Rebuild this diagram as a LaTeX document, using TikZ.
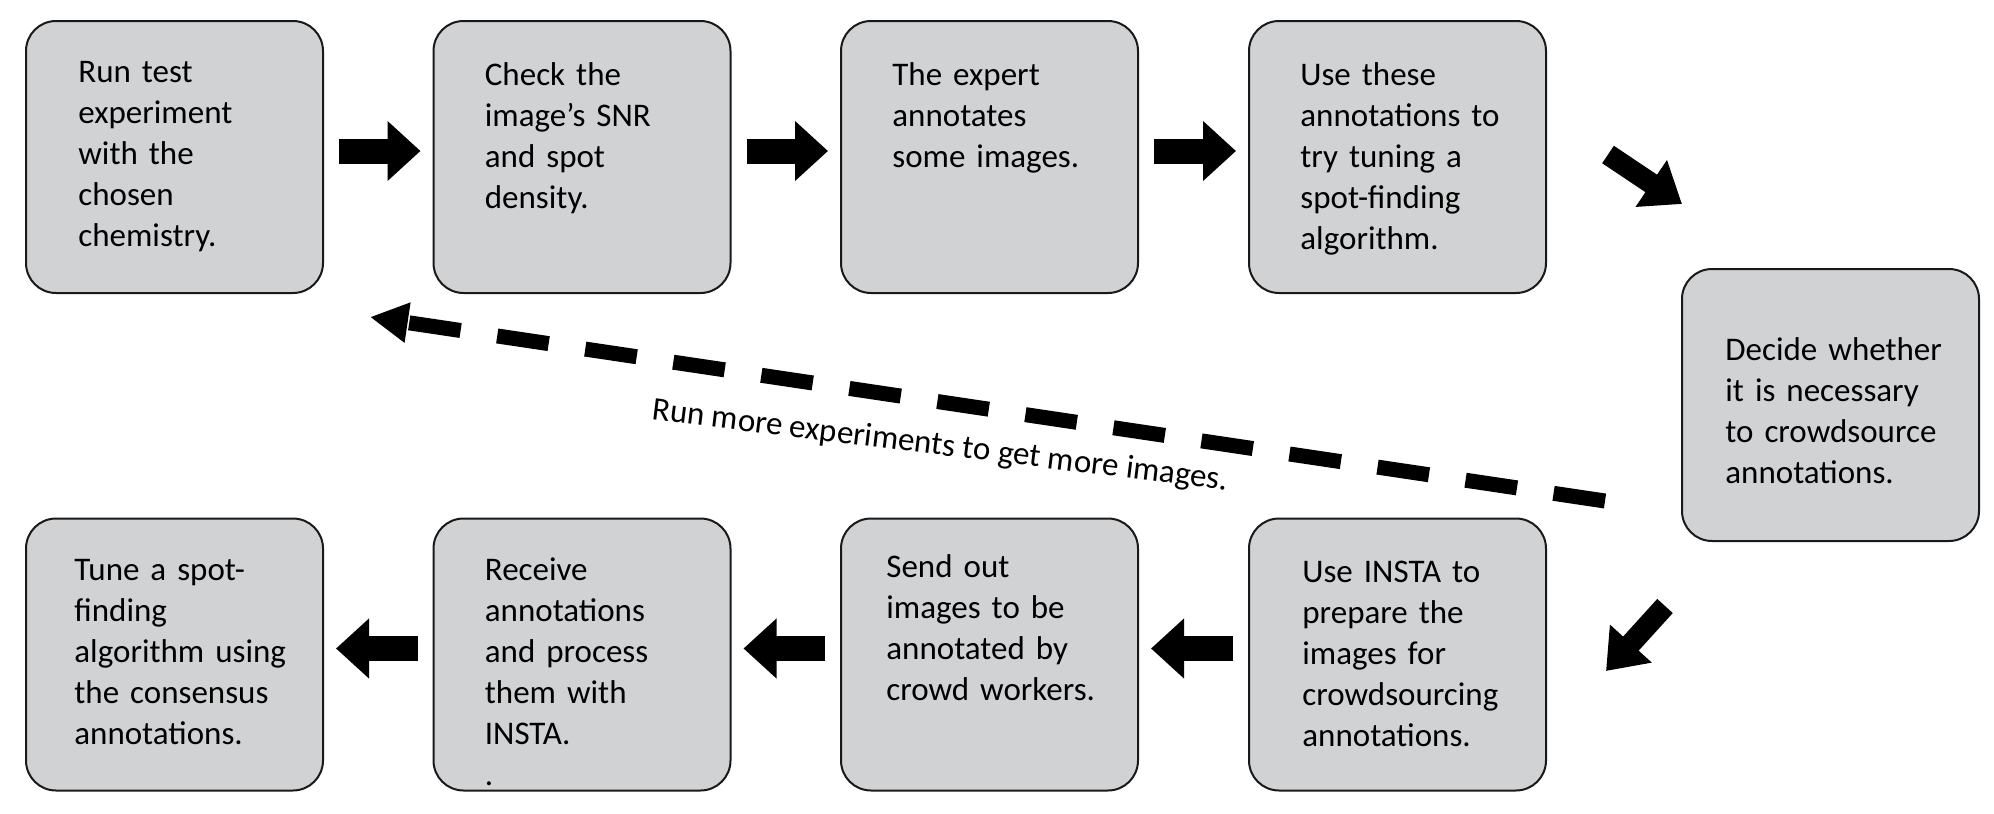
\documentclass[tikz,border=0pt]{standalone}
\usepackage{fontspec}
\setmainfont{Carlito}
\usepackage{xcolor}
\usepackage{tikz}
\usetikzlibrary{arrows.meta}

\definecolor{boxgray}{RGB}{209,210,212}
\newcommand{\stepfont}{\fontsize{16.5pt}{20.5pt}\selectfont}

\begin{document}
\begin{tikzpicture}[
    x=0.5pt,
    y=-0.5pt,
    stepbox/.style={
        rectangle,
        rounded corners=15pt,
        draw=black!90,
        line width=1pt,
        fill=boxgray,
        minimum width=148.5pt,
        minimum height=136pt
    },
    steptext/.style={
        anchor=base west,
        align=left,
        text width=140pt,
        inner sep=0pt,
        font=\stepfont
    },
    blockarrow/.style={
        line width=12.5pt,
        -{Triangle[length=16.5pt,width=29pt]},
        shorten <=7.5pt,
        shorten >=6pt
    },
    diagarrow/.style={
        line width=10.5pt,
        -{Triangle[length=18.5pt,width=27pt]}
    },
    backarrow/.style={
        line width=7.5pt,
        dash pattern=on 26pt off 18.5pt,
        -{Triangle[length=19pt,width=19pt]}
    }
]

\useasboundingbox (0,0) rectangle (1994,814);

% Randul de sus
\node[stepbox] (run) at (174.5,157) {};
\node[stepbox] (check) at (582,157) {};
\node[stepbox] (expert) at (989.5,157) {};
\node[stepbox] (usetx) at (1397.5,157) {};

% Decizia
\node[stepbox] (decide) at (1830.5,405) {};

% Randul de jos
\node[stepbox] (insta) at (1397.5,654.5) {};
\node[stepbox] (send) at (989.5,654.5) {};
\node[stepbox] (receive) at (582,654.5) {};
\node[stepbox] (tune) at (174.5,654.5) {};

% Textele
\node[steptext] (runtxt) at ([shift={(53,62)}]run.north west) {Run test\\experiment\\with the\\chosen\\chemistry.};
\node[steptext] (checktxt) at ([shift={(52,65)}]check.north west) {Check the\\image’s SNR\\and spot\\density.};
\node[steptext] (experttxt) at ([shift={(52,65)}]expert.north west) {The expert\\annotates\\some images.};
\node[steptext] (usetxtxt) at ([shift={(52,65)}]usetx.north west) {Use these\\annotations to\\try tuning a\\spot-finding\\algorithm.};
\node[steptext] (decidetxt) at ([shift={(44,92)}]decide.north west) {Decide whether\\it is necessary\\to crowdsource\\annotations.};
\node[steptext] (instatxt) at ([shift={(54,65)}]insta.north west) {Use INSTA to\\prepare the\\images for\\crowdsourcing\\annotations.};
\node[steptext] (sendtxt) at ([shift={(46,60)}]send.north west) {Send out\\images to be\\annotated by\\crowd workers.};
\node[steptext] (receivetxt) at ([shift={(52,63)}]receive.north west) {Receive\\annotations\\and process\\them with\\INSTA.\\.};
\node[steptext] (tunetxt) at ([shift={(49,63)}]tune.north west) {Tune a spot-\\finding\\algorithm using\\the consensus\\annotations.};

% Sagetile de sus
\draw[blockarrow] ([yshift=3pt]run.east) -- ([yshift=3pt]check.west);
\draw[blockarrow] ([yshift=3pt]check.east) -- ([yshift=3pt]expert.west);
\draw[blockarrow] ([yshift=3pt]expert.east) -- ([yshift=3pt]usetx.west);

% Sagetile spre decizie si inapoi
\draw[diagarrow] ([shift={(61,-2.5)}]usetx.east) -- ([shift={(1,-64)}]decide.north west);
\draw[diagarrow] ([shift={(-16,64)}]decide.south west) -- ([shift={(59,153.5)}]insta.north east);

% Sagetile de jos
\draw[blockarrow] ([yshift=3pt]insta.west) -- ([yshift=3pt]send.east);
\draw[blockarrow] ([yshift=3pt]send.west) -- ([yshift=3pt]receive.east);
\draw[blockarrow] ([yshift=3pt]receive.west) -- ([yshift=3pt]tune.east);

% Bucla: mai multe experimente
\draw[backarrow] ([shift={(-76,-41)}]decide.south west) -- node[pos=0.534, rotate=-7, yshift=-22pt, inner sep=0pt, font=\stepfont] (loopnote) {Run more experiments to get more images.} ([shift={(46,23)}]run.south east);

\end{tikzpicture}
\end{document}
